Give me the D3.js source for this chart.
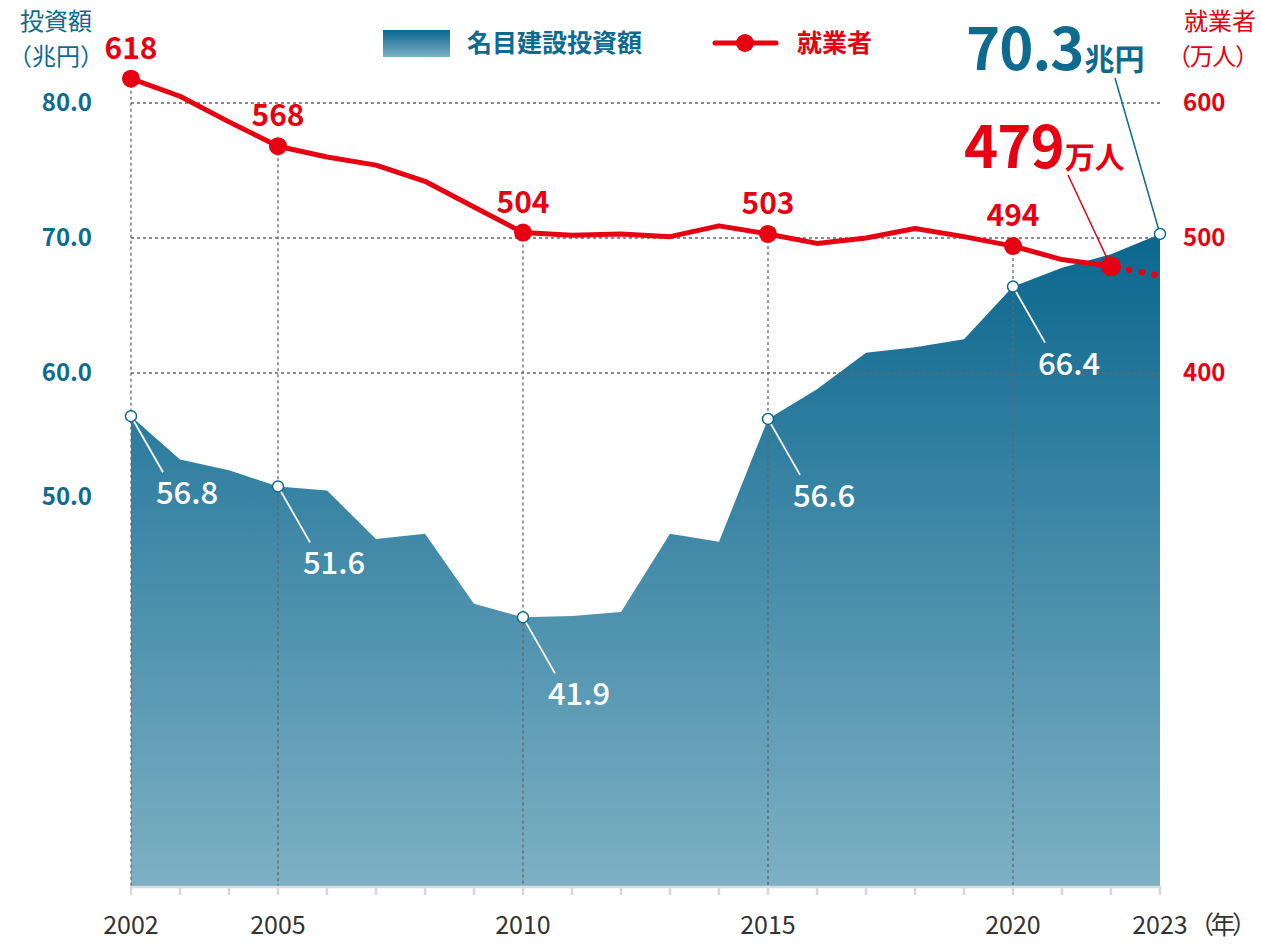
<!DOCTYPE html>
<html>
<head>
  <meta charset="utf-8">
  <script src="https://cdn.jsdelivr.net/npm/d3@7"></script>
  <style>
    body { margin: 0; background: #fff; }
    text { font-family: "Noto Sans CJK JP", "Noto Sans", sans-serif; }
  </style>
</head>
<body>
  <script>
    // data
    var years = d3.range(2002, 2024);
    var investment = [56.8, 53.6, 52.8, 51.6, 51.3, 47.7, 48.1, 42.9, 41.9, 42.0, 42.3,
      48.1, 47.5, 56.6, 58.8, 61.5, 61.9, 62.5, 66.4, 67.8, 68.8, 70.3];
    var workers = [618, 605, 586, 568, 560, 554, 542, 523, 504, 502, 503,
      501, 509, 503, 496, 500, 507, 501, 494, 484, 479];
    var workers2023 = 472;
    var leftTicks = [80, 70, 60, 50];
    var rightTicks = [600, 500, 400];
    var labelYears = [2002, 2005, 2010, 2015, 2020];
    var xLabels = [2002, 2005, 2010, 2015, 2020, 2023];

    var teal = "#0f6a8f", red = "#e60012";

    var svg = d3.select("body").append("svg")
      .attr("width", 1261).attr("height", 945);

    var x = d3.scaleLinear().domain([2002, 2023]).range([131, 1160]);
    var yL = d3.scaleLinear().domain([60, 80]).range([373, 103]);
    var yR = d3.scaleLinear().domain([400, 600]).range([373, 103]);
    var bottom = 886;

    var inv = years.map(function (y, i) { return { year: y, v: investment[i] }; });
    var wrk = workers.map(function (v, i) { return { year: years[i], v: v }; });

    // gradient for the area
    var defs = svg.append("defs");
    var grad = defs.append("linearGradient").attr("id", "areaGrad")
      .attr("gradientUnits", "userSpaceOnUse")
      .attr("x1", 0).attr("x2", 0).attr("y1", 230).attr("y2", bottom);
    grad.append("stop").attr("offset", "0%").attr("stop-color", "#0a668e");
    grad.append("stop").attr("offset", "100%").attr("stop-color", "#7db0c4");
    var lg = defs.append("linearGradient").attr("id", "legGrad")
      .attr("x1", 0).attr("x2", 0).attr("y1", 0).attr("y2", 1);
    lg.append("stop").attr("offset", "0%").attr("stop-color", "#0a668e");
    lg.append("stop").attr("offset", "100%").attr("stop-color", "#7db0c4");

    // area
    svg.append("path").datum(inv)
      .attr("fill", "url(#areaGrad)")
      .attr("d", d3.area()
        .x(function (d) { return x(d.year); })
        .y0(bottom)
        .y1(function (d) { return yL(d.v); }));

    // horizontal grid
    svg.selectAll(".hgrid").data([80, 70, 60]).enter().append("line")
      .attr("x1", x(2002)).attr("x2", x(2023))
      .attr("y1", function (d) { return yL(d); }).attr("y2", function (d) { return yL(d); })
      .attr("stroke", "#666").attr("stroke-width", 1.3).attr("stroke-dasharray", "3,3");

    // vertical grid
    svg.selectAll(".vgrid").data(labelYears).enter().append("line")
      .attr("x1", function (d) { return x(d); }).attr("x2", function (d) { return x(d); })
      .attr("y1", function (d) { return yR(workers[d - 2002]); }).attr("y2", bottom)
      .attr("stroke", "#666").attr("stroke-width", 1.3).attr("stroke-dasharray", "3,3");

    // x axis
    svg.append("line").attr("x1", x(2002) - 1).attr("x2", x(2023) + 1)
      .attr("y1", bottom + 1).attr("y2", bottom + 1)
      .attr("stroke", "#d9d9d9").attr("stroke-width", 2.5);
    svg.selectAll(".xtick").data(years).enter().append("line")
      .attr("x1", function (d) { return x(d); }).attr("x2", function (d) { return x(d); })
      .attr("y1", bottom).attr("y2", bottom + 9)
      .attr("stroke", "#d9d9d9").attr("stroke-width", 2.5);
    svg.selectAll(".xlab").data(xLabels).enter().append("text")
      .attr("x", function (d) { return x(d); }).attr("y", 934)
      .attr("text-anchor", "middle").attr("font-size", 25).attr("fill", "#333")
      .text(function (d) { return d; });
    svg.append("text").attr("x", x(2023) + 29).attr("y", 934)
      .attr("textLength", 68).attr("lengthAdjust", "spacing")
      .attr("font-size", 25).attr("fill", "#333").text("（年）");

    // left axis
    svg.selectAll(".ltick").data(leftTicks).enter().append("text")
      .attr("x", 92).attr("y", function (d) { return yL(d) + (d === 50 ? -11 : 0); })
      .attr("dy", "0.35em").attr("text-anchor", "end")
      .attr("font-size", 24).attr("font-weight", 700).attr("fill", teal)
      .text(function (d) { return d.toFixed(1); });
    svg.append("text").attr("x", 56).attr("y", 30).attr("text-anchor", "middle")
      .attr("font-size", 24).attr("fill", teal).text("投資額");
    svg.append("text").attr("x", 56).attr("y", 65).attr("text-anchor", "middle")
      .attr("font-size", 24).attr("fill", teal).text("（兆円）");

    // right axis
    svg.selectAll(".rtick").data(rightTicks).enter().append("text")
      .attr("x", 1183).attr("y", function (d) { return yR(d); })
      .attr("dy", "0.35em")
      .attr("font-size", 24).attr("font-weight", 700).attr("fill", red)
      .text(function (d) { return d; });
    svg.append("text").attr("x", 1220).attr("y", 30).attr("text-anchor", "middle")
      .attr("font-size", 24).attr("fill", red).text("就業者");
    svg.append("text").attr("x", 1167).attr("y", 65)
      .attr("textLength", 92).attr("lengthAdjust", "spacing")
      .attr("font-size", 24).attr("fill", red).text("（万人）");

    // workers line
    svg.append("path").datum(wrk)
      .attr("fill", "none").attr("stroke", red).attr("stroke-width", 5)
      .attr("stroke-linejoin", "round")
      .attr("d", d3.line()
        .x(function (d) { return x(d.year); })
        .y(function (d) { return yR(d.v); }));
    svg.append("line")
      .attr("x1", x(2022) + 18).attr("y1", yR(479) + (yR(workers2023) - yR(479)) * 18 / 49)
      .attr("x2", x(2023)).attr("y2", yR(workers2023))
      .attr("stroke", red).attr("stroke-width", 6.5).attr("stroke-linecap", "round")
      .attr("stroke-dasharray", "0,13");

    // area value markers and leader lines
    var invLabels = labelYears.concat([2023]);
    labelYears.forEach(function (yr) {
      var v = investment[yr - 2002];
      var cx = x(yr), cy = yL(v);
      svg.append("line").attr("x1", cx).attr("y1", cy).attr("x2", cx + 32).attr("y2", cy + 56)
        .attr("stroke", "#fff").attr("stroke-width", 1.8);
      svg.append("text").attr("x", cx + 56).attr("y", cy + 88)
        .attr("text-anchor", "middle").attr("font-size", 31).attr("font-weight", 500)
        .attr("fill", "#fff").text(v.toFixed(1));
    });
    // 2023 callout
    svg.append("line").attr("x1", x(2023)).attr("y1", yL(70.3)).attr("x2", 1115).attr("y2", 78)
      .attr("stroke", teal).attr("stroke-width", 1.5);
    svg.selectAll(".invpt").data(invLabels).enter().append("circle")
      .attr("cx", function (d) { return x(d); })
      .attr("cy", function (d) { return yL(investment[d - 2002]); })
      .attr("r", 5.5).attr("fill", "#fff").attr("stroke", teal).attr("stroke-width", 1.5);
    var t70 = svg.append("text").attr("x", 966).attr("y", 70).attr("fill", teal).attr("font-weight", 700);
    t70.append("tspan").attr("font-size", 58).attr("letter-spacing", -1).text("70.3");
    t70.append("tspan").attr("font-size", 30).attr("dx", 1).text("兆円");

    // worker markers and labels
    svg.append("line").attr("x1", 1068).attr("y1", 175).attr("x2", x(2022) - 3).attr("y2", yR(479) - 6)
      .attr("stroke", red).attr("stroke-width", 1.5);
    svg.selectAll(".wpt").data(labelYears).enter().append("circle")
      .attr("cx", function (d) { return x(d); })
      .attr("cy", function (d) { return yR(workers[d - 2002]); })
      .attr("r", 9).attr("fill", red);
    svg.append("circle").attr("cx", x(2022)).attr("cy", yR(479)).attr("r", 10).attr("fill", red);
    svg.selectAll(".wlab").data(labelYears).enter().append("text")
      .attr("x", function (d) { return x(d); })
      .attr("y", function (d) { return yR(workers[d - 2002]) - 20; })
      .attr("text-anchor", "middle").attr("font-size", 30).attr("font-weight", 700)
      .attr("fill", red).text(function (d) { return workers[d - 2002]; });
    var t479 = svg.append("text").attr("x", 964).attr("y", 168).attr("fill", red).attr("font-weight", 700);
    t479.append("tspan").attr("font-size", 58).attr("letter-spacing", -1).text("479");
    t479.append("tspan").attr("font-size", 30).attr("dx", 1).text("万人");

    // legend
    svg.append("rect").attr("x", 383).attr("y", 30).attr("width", 67).attr("height", 27)
      .attr("fill", "url(#legGrad)");
    svg.append("text").attr("x", 467).attr("y", 43).attr("dy", "0.35em")
      .attr("font-size", 25).attr("font-weight", 700).attr("fill", teal).text("名目建設投資額");
    svg.append("line").attr("x1", 715).attr("x2", 776).attr("y1", 43).attr("y2", 43)
      .attr("stroke", red).attr("stroke-width", 5).attr("stroke-linecap", "round");
    svg.append("circle").attr("cx", 745).attr("cy", 43).attr("r", 9).attr("fill", red);
    svg.append("text").attr("x", 797).attr("y", 43).attr("dy", "0.35em")
      .attr("font-size", 25).attr("font-weight", 700).attr("fill", red).text("就業者");
  </script>
</body>
</html>
